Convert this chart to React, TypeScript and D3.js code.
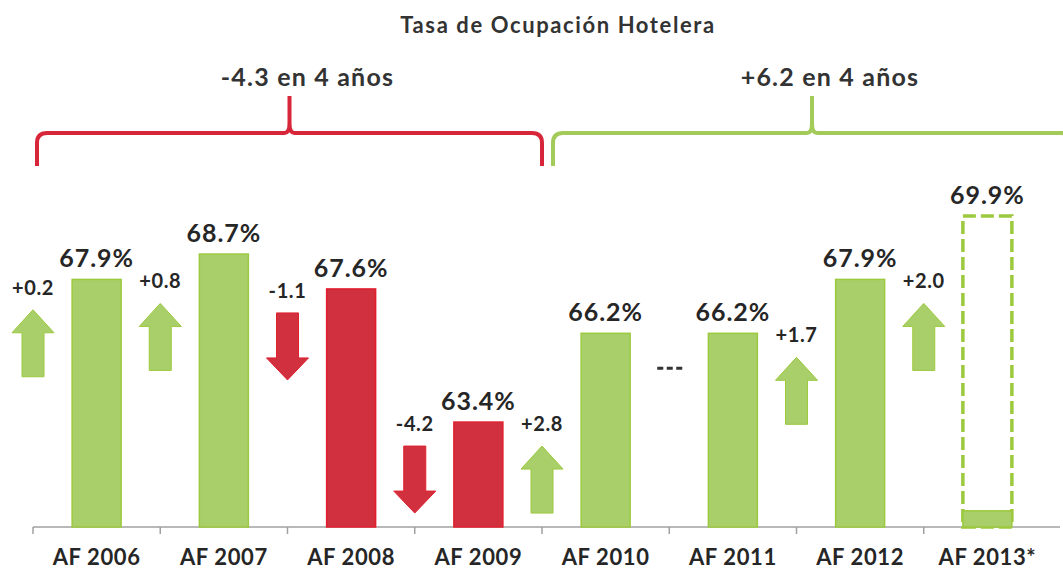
import * as d3 from "d3";

// chart data
const categories = ["AF 2006", "AF 2007", "AF 2008", "AF 2009", "AF 2010", "AF 2011", "AF 2012", "AF 2013*"];
const occupancy = [67.9, 68.7, 67.6, 63.4, 66.2, 66.2, 67.9, 60.6]; // 2013 = partial (filled stub)
const projected = [null, null, null, null, null, null, null, 69.9];
const deltas = [0.2, 0.8, -1.1, -4.2, 2.8, 0.0, 1.7, 2.0];
const groupLabels = ["-4.3 en 4 años", "+6.2 en 4 años"];
const groupRanges = [[0, 3], [4, 7]];
const title = "Tasa de Ocupación Hotelera";

const W = 1063;
const H = 572;
const baseY = 527;
const FONT = "Lato, 'DejaVu Sans', sans-serif";
const GREEN = "#a8cf6a";
const GREEN_EDGE = "#9cc93d";
const RED = "#d1303e";
const RED_EDGE = "#e0202f";
const TEXT = "#262626";

export default function App() {
  const x = d3.scaleBand<string>().domain(categories).range([33, 1051]).paddingInner(0).paddingOuter(0);
  const step = x.step();
  const barW = step * 0.385;
  const y = d3.scaleLinear().domain([60.09, 69.9]).range([baseY, baseY - 9.81 * 31.7]);

  const shown = occupancy.map((v, i) => (projected[i] != null ? (projected[i] as number) : v));

  const upArrow = (cx: number, t: number) =>
    `M${cx},${t} L${cx + 21},${t + 23} L${cx + 11},${t + 23} L${cx + 11},${t + 67} L${cx - 11},${t + 67} L${cx - 11},${t + 23} L${cx - 21},${t + 23} Z`;
  const downArrow = (cx: number, t: number) =>
    `M${cx - 11},${t} L${cx + 11},${t} L${cx + 11},${t + 45} L${cx + 21},${t + 45} L${cx},${t + 67} L${cx - 21},${t + 45} L${cx - 11},${t + 45} Z`;

  const brace = (x0: number, x1: number, xm: number) => {
    const yl = 133;
    return `M${x0},166 L${x0},143 Q${x0},${yl} ${x0 + 10},${yl} L${xm - 5},${yl} Q${xm},${yl} ${xm},${yl - 10} L${xm},96 ` +
      `M${xm},96 L${xm},${yl - 10} Q${xm},${yl} ${xm + 5},${yl} L${x1 - 10},${yl} Q${x1},${yl} ${x1},${yl + 10} L${x1},166`;
  };

  return (
    <div style={{ position: "absolute", left: 0, top: 0 }}>
      <svg width={W} height={H} style={{ display: "block", background: "#fff" }} fontFamily={FONT}>
        <text x={558} y={33} textAnchor="middle" fontSize={22} fontWeight={700} letterSpacing={1.6} fill="#333">{title}</text>

        {/* group braces */}
        {groupRanges.map(([a, b], gi) => {
          const x0 = (x(categories[a]) as number) + (gi === 0 ? 4 : 11);
          const x1 = (x(categories[b]) as number) + step + (gi === 0 ? 0 : 20);
          const xm = (x0 + x1) / 2;
          const col = gi === 0 ? "#d7263a" : "#a3cb5a";
          return (
            <g key={gi}>
              <path d={brace(x0, x1, xm)} fill="none" stroke={col} strokeWidth={4} strokeLinejoin="round" />
              <text x={xm + 18} y={86} textAnchor="middle" fontSize={25} fontWeight={700} letterSpacing={1.2} fill="#333">{groupLabels[gi]}</text>
            </g>
          );
        })}

        {/* axis */}
        <line x1={33} x2={1060} y1={baseY} y2={baseY} stroke="#a0a0a0" strokeWidth={1.5} />
        {categories.map((c) => (
          <line key={c} x1={x(c)} x2={x(c)} y1={baseY} y2={baseY + 7} stroke="#a0a0a0" strokeWidth={1.5} />
        ))}
        {categories.map((c) => (
          <text key={c} x={(x(c) as number) + step / 2} y={565} textAnchor="middle" fontSize={22} fontWeight={700} letterSpacing={0.6} fill={TEXT}>{c}</text>
        ))}

        {/* bars */}
        {categories.map((c, i) => {
          const bx = (x(c) as number) + (step - barW) / 2;
          const red = deltas[i] < 0;
          const proj = projected[i];
          return (
            <g key={c}>
              {proj != null && (
                <rect x={bx} y={y(proj)} width={barW} height={baseY - y(proj)} fill="#fff"
                  stroke={GREEN_EDGE} strokeWidth={3.5} strokeDasharray="13,5" />
              )}
              <rect x={bx} y={y(occupancy[i])} width={barW} height={baseY - y(occupancy[i])}
                fill={red ? RED : GREEN} stroke={red ? RED_EDGE : GREEN_EDGE} strokeWidth={1.5} />
              <text x={bx + barW / 2} y={y(shown[i]) - 12} textAnchor="middle" fontSize={25} fontWeight={700} letterSpacing={1} fill={TEXT}>
                {shown[i].toFixed(1)}%
              </text>
            </g>
          );
        })}

        {/* change arrows at band boundaries */}
        {categories.map((c, i) => {
          const cx = x(c) as number;
          const prev = i === 0 ? shown[0] - deltas[0] : shown[i - 1];
          const L = y(Math.min(prev, shown[i])) + 2;
          const d = deltas[i];
          if (d === 0) {
            return <line key={c} x1={cx - 12} x2={cx + 13} y1={L + 33} y2={L + 33} stroke="#333" strokeWidth={3} strokeDasharray="6,3.5" />;
          }
          return (
            <g key={c}>
              <text x={cx} y={L + 7} textAnchor="middle" fontSize={20} fontWeight={700} letterSpacing={0.6} fill={TEXT}>
                {(d > 0 ? "+" : "") + d.toFixed(1)}
              </text>
              <path d={d > 0 ? upArrow(cx, L + 22) : downArrow(cx, L + 22)}
                fill={d > 0 ? GREEN : RED} stroke={d > 0 ? GREEN_EDGE : RED_EDGE} strokeWidth={1} />
            </g>
          );
        })}
      </svg>
    </div>
  );
}
